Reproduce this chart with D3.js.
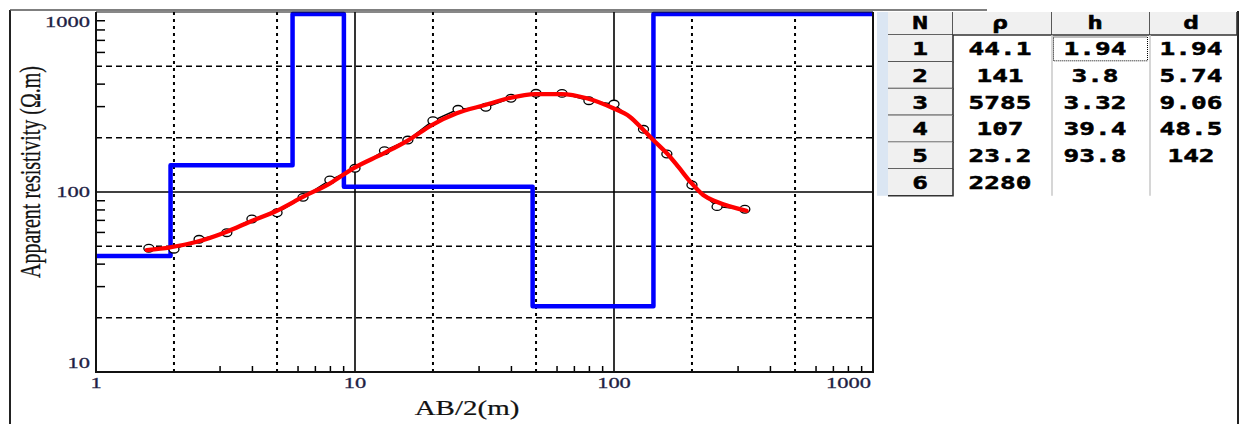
<!DOCTYPE html>
<html>
<head>
<meta charset="utf-8">
<script src="https://cdn.jsdelivr.net/npm/d3@7/dist/d3.min.js"></script>
<style>
body { margin: 0; background: #fff; }
</style>
</head>
<body>
<div id="canvas"></div>
<script>
var width = 1244,
	height = 424;

// layer model (rho, thickness, depth)
var layerRho = [44.1, 141, 5785, 107, 23.2, 2280];
var layerH = [1.94, 3.8, 3.32, 39.4, 93.8];
var layerD = [1.94, 5.74, 9.06, 48.5, 142];

// measured sounding
var obsAB = [1.6, 2, 2.5, 3.2, 4, 5, 6.3, 8, 10, 13, 16, 20, 25, 32, 40, 50, 63, 80, 100, 130, 160, 200, 250, 320];
var obsRho = [48.7, 48.1, 54.6, 59.4, 70.8, 76.7, 93.4, 116.6, 135.4, 169.6, 194.4, 248.9, 288, 295.5, 331.7, 353.4, 353, 321.6, 308, 223, 162.6, 109.3, 82.9, 80.2];

// model response curve
var modelAB = [1.57, 1.93, 2.45, 3.2, 3.93, 4.99, 6.32, 8.01, 9.85, 12.9, 16.1, 19.8, 24.7, 31.8, 39.1, 49.6, 62.8, 78.5, 99.4, 115, 130, 144, 160, 177, 197, 221, 249, 325];
var modelRho = [47.6, 49.3, 52.9, 60.2, 68.4, 78.7, 94.2, 111.8, 135.4, 164, 194.4, 235.6, 273.6, 304.3, 331.7, 350, 350, 331.7, 291.7, 262, 221, 190.3, 164, 138.2, 114, 96.2, 88.3, 78.7];

var xLabels = [1, 10, 100, 1000];
var yLabels = [10, 100, 1000];
var xSolid = [10, 100];
var ySolid = [100];
var xDotted = [2, 5, 20, 50, 200, 500];
var yDashed = [20, 50, 200, 500];

var tableHead = ["N", "\u03c1", "h", "d"];

var plot = {left: 96, top: 12, right: 873, bottom: 372};
var stretch = 1.45;

var svg = d3.select("#canvas").append("svg")
	.attr("width", width)
	.attr("height", height)
	.style("background-color", "#fff")
	.style("display", "block");

var x = d3.scaleLog().domain([1, 1000]).range([plot.left, plot.right]);
var y = d3.scaleLog().domain([10, 1000]).range([plot.bottom, plot.top]);

// outer frame
svg.append("line")
	.attr("x1", 10).attr("x2", 10).attr("y1", 10).attr("y2", height)
	.attr("stroke", "#222").attr("stroke-width", 2);
svg.append("line")
	.attr("x1", 10).attr("x2", 987).attr("y1", 10).attr("y2", 10)
	.attr("stroke", "#555").attr("stroke-width", 1.5);
svg.append("line")
	.attr("x1", 1238).attr("x2", 1238).attr("y1", 11).attr("y2", height)
	.attr("stroke", "#222").attr("stroke-width", 2);

var grid = svg.append("g");

grid.selectAll(".vdot").data(xDotted).enter().append("line")
	.attr("x1", function(d){ return x(d); })
	.attr("x2", function(d){ return x(d); })
	.attr("y1", plot.top).attr("y2", plot.bottom)
	.attr("stroke", "#000").attr("stroke-width", 2)
	.attr("stroke-dasharray", "3,4");

grid.selectAll(".hdash").data(yDashed).enter().append("line")
	.attr("x1", plot.left).attr("x2", plot.right)
	.attr("y1", function(d){ return y(d); })
	.attr("y2", function(d){ return y(d); })
	.attr("stroke", "#000").attr("stroke-width", 1.4)
	.attr("stroke-dasharray", "6,4");

grid.selectAll(".vsol").data(xSolid).enter().append("line")
	.attr("x1", function(d){ return x(d); })
	.attr("x2", function(d){ return x(d); })
	.attr("y1", plot.top).attr("y2", plot.bottom)
	.attr("stroke", "#000").attr("stroke-width", 1.6);

grid.selectAll(".hsol").data(ySolid).enter().append("line")
	.attr("x1", plot.left).attr("x2", plot.right)
	.attr("y1", function(d){ return y(d); })
	.attr("y2", function(d){ return y(d); })
	.attr("stroke", "#000").attr("stroke-width", 1.3);

// minor ticks pointing inward
var xMinor = x.ticks().filter(function(d){
	return xLabels.indexOf(d) < 0 && xDotted.indexOf(d) < 0;
});
var yMinor = y.ticks().filter(function(d){
	return yLabels.indexOf(d) < 0 && yDashed.indexOf(d) < 0;
});

svg.append("g").attr("transform", "translate(0," + plot.bottom + ")")
	.call(d3.axisBottom(x).tickValues(xMinor).tickSize(-6).tickFormat(""))
	.call(function(g){ g.select(".domain").remove(); })
	.selectAll("line").attr("stroke", "#000").attr("stroke-width", 1.5);

svg.append("g").attr("transform", "translate(" + plot.left + ",0)")
	.call(d3.axisLeft(y).tickValues(yMinor).tickSize(-9).tickFormat(""))
	.call(function(g){ g.select(".domain").remove(); })
	.selectAll("line").attr("stroke", "#000").attr("stroke-width", 1.5);

// layer model as a step line, clamped at the top of the plot
var steps = [[1, layerRho[0]]];
for (var i = 0; i < layerD.length; i++) {
	steps.push([layerD[i], layerRho[i]]);
	steps.push([layerD[i], layerRho[i + 1]]);
}
steps.push([1000, layerRho[layerRho.length - 1]]);

var stepLine = d3.line()
	.x(function(d){ return x(d[0]); })
	.y(function(d){ return Math.max(y(Math.min(d[1], 1000)), plot.top + 2); });

svg.append("path")
	.datum(steps)
	.attr("d", stepLine)
	.attr("fill", "none")
	.attr("stroke", "#0000ff")
	.attr("stroke-width", 4.5)
	.attr("stroke-linejoin", "round");

// observed data
var obs = obsAB.map(function(d, i){ return {ab: d, rho: obsRho[i]}; });

svg.append("path")
	.datum(obs)
	.attr("d", d3.line()
		.x(function(d){ return x(d.ab); })
		.y(function(d){ return y(d.rho); }))
	.attr("fill", "none")
	.attr("stroke", "#000")
	.attr("stroke-width", 1.4);

svg.selectAll(".pt").data(obs).enter().append("ellipse")
	.attr("cx", function(d){ return x(d.ab); })
	.attr("cy", function(d){ return y(d.rho); })
	.attr("rx", 5).attr("ry", 3.8)
	.attr("fill", "#fff")
	.attr("stroke", "#000")
	.attr("stroke-width", 1.3);

// model response
var model = modelAB.map(function(d, i){ return {ab: d, rho: modelRho[i]}; });

svg.append("path")
	.datum(model)
	.attr("d", d3.line()
		.curve(d3.curveMonotoneX)
		.x(function(d){ return x(d.ab); })
		.y(function(d){ return y(d.rho); }))
	.attr("fill", "none")
	.attr("stroke", "#ff0000")
	.attr("stroke-width", 4.3)
	.attr("stroke-linecap", "round");

// plot frame
svg.append("path")
	.attr("d", "M" + plot.left + "," + plot.top + "V" + plot.bottom + "H" + plot.right + "V" + plot.top)
	.attr("fill", "none")
	.attr("stroke", "#111")
	.attr("stroke-width", 2);
svg.append("line")
	.attr("x1", plot.left).attr("x2", plot.right)
	.attr("y1", plot.top).attr("y2", plot.top)
	.attr("stroke", "#111").attr("stroke-width", 1);

function stretchedText(g, px, py, str, opts){
	var t = g.append("g")
		.attr("transform", "translate(" + px + "," + py + ") " + (opts.rotate ? "rotate(-90) scale(1," + stretch + ")" : "scale(" + stretch + ",1)"))
		.append("text")
		.attr("text-anchor", opts.anchor || "middle")
		.attr("font-family", opts.family || "'Liberation Serif', serif")
		.attr("font-size", opts.size)
		.attr("font-weight", opts.weight || "normal")
		.attr("fill", opts.color || "#111")
		.attr("stroke", opts.heavy ? (opts.color || "#111") : "none")
		.attr("stroke-width", opts.heavy || 0)
		.text(str);
	return t;
}

// tick labels
var labels = svg.append("g");
xLabels.forEach(function(d){
	var px = x(d), anchor = "middle";
	if (d === 1000) { px = plot.right - 2; anchor = "end"; }
	stretchedText(labels, px, 388, String(d), {size: 15.5, anchor: anchor, color: "#1e1e44", heavy: 0.3});
});
yLabels.forEach(function(d){
	var py = y(d) + 5;
	if (d === 1000) py = y(d) + 15;
	if (d === 10) py = y(d) - 4;
	stretchedText(labels, plot.left - 6, py, String(d), {size: 15.5, anchor: "end", color: "#1e1e44", heavy: 0.3});
});

// axis titles
stretchedText(svg, 467, 415, "AB/2(m)", {size: 20, heavy: 0.2});
stretchedText(svg, 40, 172, "Apparent resistivity (\u03a9.m)", {size: 20, rotate: true, heavy: 0.2});

// layer table
var colX = [888, 953, 1052, 1150, 1237];
var headTop = 12, headBottom = 35, rowH = 26.8;
var tbl = svg.append("g");

tbl.append("rect")
	.attr("x", 877).attr("y", headTop)
	.attr("width", 11).attr("height", headBottom - headTop + rowH * layerRho.length)
	.attr("fill", "#dbe6f3");

function button(px, py, w, h){
	tbl.append("rect")
		.attr("x", px).attr("y", py).attr("width", w).attr("height", h)
		.attr("fill", "#f0f0f0");
	tbl.append("path")
		.attr("d", "M" + (px + w) + "," + py + "V" + (py + h) + "H" + px)
		.attr("fill", "none")
		.attr("stroke", "#333")
		.attr("stroke-width", 1.6);
}

tableHead.forEach(function(d, i){
	button(colX[i], headTop, colX[i + 1] - colX[i], headBottom - headTop);
});
layerRho.forEach(function(d, i){
	button(colX[0], headBottom + rowH * i, colX[1] - colX[0], rowH);
});

[colX[2], colX[3]].forEach(function(cx){
	tbl.append("line")
		.attr("x1", cx).attr("x2", cx)
		.attr("y1", headBottom).attr("y2", headBottom + rowH * layerRho.length)
		.attr("stroke", "#c8c8c8").attr("stroke-width", 1.5);
});

// focus box on the selected cell
tbl.append("rect")
	.attr("x", colX[2] + 1.5).attr("y", headBottom + 2)
	.attr("width", colX[3] - colX[2] - 4).attr("height", rowH - 3)
	.attr("fill", "none")
	.attr("stroke", "#000")
	.attr("stroke-width", 1)
	.attr("stroke-dasharray", "1,1");

var mono = "'DejaVu Sans Mono', monospace";
var colCenter = [920, 1000, 1095, 1191];

tableHead.forEach(function(d, i){
	stretchedText(tbl, colCenter[i], headTop + 17, d, {size: 18, weight: "bold", family: mono, color: "#000", heavy: 0.5});
});

layerRho.forEach(function(d, i){
	var ry = headBottom + rowH * i + rowH / 2 + 6.5;
	var cells = [String(i + 1), String(d),
		i < layerH.length ? String(layerH[i]) : "",
		i < layerD.length ? String(layerD[i]) : ""];
	cells.forEach(function(c, j){
		if (c !== "") stretchedText(tbl, colCenter[j], ry, c, {size: 18, weight: "bold", family: mono, color: "#000", heavy: 0.5});
	});
});
</script>
</body>
</html>
